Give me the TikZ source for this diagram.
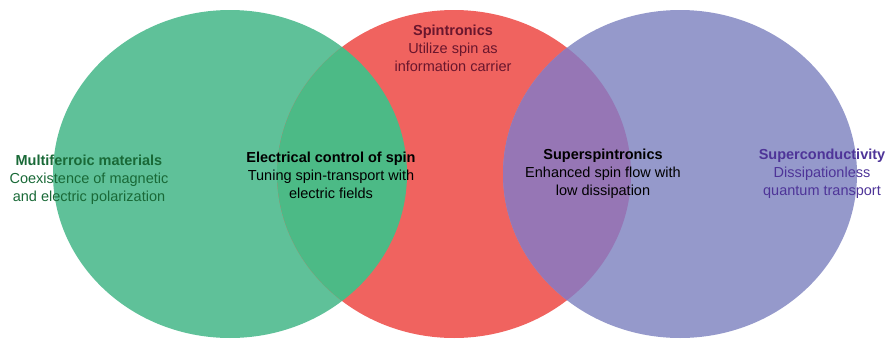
\documentclass[tikz,border=0pt]{standalone}
\usepackage{fontspec}
\setmainfont{Liberation Sans}
\usetikzlibrary{positioning}
\definecolor{greenset}{RGB}{95,193,153}
\definecolor{redset}{RGB}{240,99,95}
\definecolor{purpleset}{RGB}{149,153,203}
\definecolor{greenred}{RGB}{76,186,134}
\definecolor{redpurple}{RGB}{150,118,181}
\definecolor{greentext}{RGB}{25,105,55}
\definecolor{redtext}{RGB}{105,22,45}
\definecolor{purpletext}{RGB}{78,52,152}
\tikzset{
  setfill/.style = {draw=none},
  venntext/.style = {inner sep=0pt, align=center, font=\fontsize{14.5}{18}\selectfont}
}

\begin{document}
\begin{tikzpicture}[x=1pt,y=-1pt]
\useasboundingbox (0,0) rectangle (887,340);
% the three sets
\fill[greenset]  (230,174) ellipse [x radius=177, y radius=164];
\fill[redset]    (454,174) ellipse [x radius=177, y radius=164];
\fill[purpleset] (680,174) ellipse [x radius=177, y radius=164];
% overlaps
\begin{scope}
  \clip (230,174) ellipse [x radius=177, y radius=164];
  \fill[greenred] (454,174) ellipse [x radius=177, y radius=164];
\end{scope}
\begin{scope}
  \clip (454,174) ellipse [x radius=177, y radius=164];
  \fill[redpurple] (680,174) ellipse [x radius=177, y radius=164];
\end{scope}
% labels
\node[venntext, text=greentext] (multi) at (89,180) {\textbf{Multiferroic materials}\\Coexistence of magnetic\\and electric polarization};
\node[venntext] (elec) at (331,175) {\textbf{Electrical control of spin}\\Tuning spin-transport with\\electric fields};
\node[venntext, text=redtext] (spin) at (453,48) {\textbf{Spintronics}\\Utilize spin as\\information carrier};
\node[venntext] (superspin) at (603,174) {\textbf{Superspintronics}\\Enhanced spin flow with\\low dissipation};
\node[venntext, text=purpletext] (supercond) at (822,174) {\textbf{Superconductivity}\\Dissipationless\\quantum transport};
\end{tikzpicture}
\end{document}
